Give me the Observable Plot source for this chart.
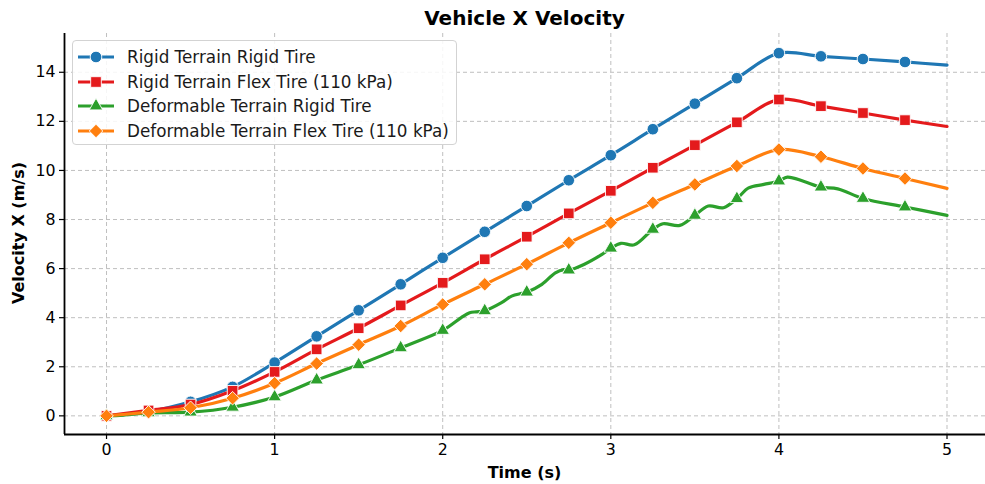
<!DOCTYPE html>
<html><head><meta charset="utf-8">
<script src="https://cdn.jsdelivr.net/npm/d3@7"></script>
<script src="https://cdn.jsdelivr.net/npm/@observablehq/plot@0.6"></script>
<style>
body{margin:0;background:#fff;font-family:"DejaVu Sans",sans-serif;}
#wrap{position:relative;width:985px;height:484px;overflow:hidden;}
#title{position:absolute;left:64px;width:921px;top:8px;line-height:1;text-align:center;font-weight:bold;font-size:20px;color:#000;}
#xlabel{position:absolute;left:64px;width:921px;top:465px;line-height:1;text-align:center;font-weight:bold;font-size:16px;color:#000;}
#ylabel{position:absolute;left:19px;top:233px;transform:translate(-50%,-50%) rotate(-90deg);white-space:nowrap;line-height:1;font-weight:bold;font-size:16px;color:#000;}
#legend{position:absolute;left:72px;top:40px;width:385px;height:105px;border:1px solid #d3d3d3;border-radius:4px;background:rgba(255,255,255,0.85);box-sizing:border-box;}
.row{position:absolute;left:5px;height:24px;display:flex;align-items:center;}
.row span{margin-left:13px;font-size:16.8px;color:#1a1a1a;white-space:nowrap;}
</style>
</head><body>
<div id="wrap">
  <div id="chart"></div>
  <div id="title">Vehicle X Velocity</div>
  <div id="xlabel">Time (s)</div>
  <div id="ylabel">Velocity X (m/s)</div>
  <div id="legend"></div>
</div>
<script>
// ---- data ----
const time = [0, 0.25, 0.5, 0.75, 1, 1.25, 1.5, 1.75, 2, 2.25, 2.5, 2.75, 3, 3.25, 3.5, 3.75, 4, 4.25, 4.5, 4.75, 5];
const rigidRigid = [0, 0.17, 0.57, 1.18, 2.17, 3.24, 4.30, 5.36, 6.44, 7.50, 8.55, 9.60, 10.62, 11.68, 12.72, 13.76, 14.78, 14.65, 14.54, 14.42, 14.29];
const rigidFlex = [0, 0.22, 0.46, 1.02, 1.79, 2.71, 3.57, 4.50, 5.42, 6.38, 7.30, 8.25, 9.17, 10.11, 11.03, 11.96, 12.89, 12.62, 12.34, 12.05, 11.79];
const deformRigid = [0, 0.12, 0.15, 0.35, 0.77, 1.46, 2.08, 2.77, 3.48, 4.28, 5.04, 5.94, 6.83, 7.60, 8.17, 8.85, 9.57, 9.32, 8.86, 8.51, 8.17];
const deformFlex = [0, 0.15, 0.33, 0.72, 1.33, 2.13, 2.90, 3.66, 4.54, 5.36, 6.18, 7.05, 7.87, 8.68, 9.43, 10.18, 10.85, 10.56, 10.08, 9.67, 9.27];
// finer samples of the oscillating deformable/rigid trace
const deformRigidTime = [0, 0.1, 0.25, 0.5, 0.75, 1, 1.25, 1.5, 1.75, 2, 2.11, 2.16, 2.2, 2.25, 2.35, 2.41, 2.47, 2.5, 2.59, 2.67, 2.72, 2.75, 2.84, 2.94, 3, 3.06, 3.14, 3.25, 3.31, 3.41, 3.5, 3.58, 3.67, 3.75, 3.82, 3.91, 4, 4.05, 4.15, 4.25, 4.35, 4.5, 4.75, 5];
const deformRigidTrace = [0, 0.03, 0.12, 0.15, 0.35, 0.77, 1.46, 2.08, 2.77, 3.48, 4.0, 4.2, 4.24, 4.28, 4.61, 4.88, 4.99, 5.04, 5.36, 5.83, 5.96, 5.94, 6.17, 6.55, 6.83, 7.03, 6.97, 7.60, 7.83, 7.76, 8.17, 8.55, 8.48, 8.85, 9.29, 9.43, 9.57, 9.73, 9.55, 9.32, 9.25, 8.86, 8.51, 8.17];
const seriesNames = ["Rigid Terrain Rigid Tire", "Rigid Terrain Flex Tire (110 kPa)", "Deformable Terrain Rigid Tire", "Deformable Terrain Flex Tire (110 kPa)"];
const seriesColors = ["#1f77b4", "#e41a1c", "#2ca02c", "#ff7f0e"];
const seriesSymbols = ["circle", "square", "triangle", "diamond2"];
const xTicks = [0, 1, 2, 3, 4, 5];
const yTicks = [0, 2, 4, 6, 8, 10, 12, 14];

// ---- build ----
const values = [rigidRigid, rigidFlex, deformRigid, deformFlex];
const X0 = -0.25, X1 = 5.229, Y0 = -0.76, Y1 = 15.58;
const marks = [];
const gridStyle = {stroke: "#b8b8b8", strokeWidth: 0.9, strokeDasharray: "4,3"};
marks.push(Plot.ruleX(xTicks, gridStyle));
marks.push(Plot.ruleY(yTicks, gridStyle));
const symR = {circle: 5.8, square: 6.0, triangle: 5.0, diamond2: 6.1};
seriesNames.forEach((name, k) => {
  let lineData;
  if (k === 2) lineData = deformRigidTime.map((t, i) => ({t, v: deformRigidTrace[i]}));
  else lineData = time.map((t, i) => ({t, v: values[k][i]}));
  const dotData = time.slice(0, time.length - 1).map((t, i) => ({t, v: values[k][i]}));
  marks.push(Plot.line(lineData, {x: "t", y: "v", stroke: seriesColors[k], strokeWidth: 3.2, curve: "catmull-rom"}));
  marks.push(Plot.dot(dotData, {x: "t", y: "v", symbol: seriesSymbols[k], r: symR[seriesSymbols[k]], fill: seriesColors[k], stroke: "white", strokeWidth: 0.9}));
});
marks.push(Plot.ruleX([X0], {stroke: "#000", strokeWidth: 1.8}));
marks.push(Plot.ruleY([Y0], {stroke: "#000", strokeWidth: 1.8}));
marks.push(Plot.axisX(xTicks, {tickSize: 5, tickPadding: 4, label: null, strokeWidth: 1.2, tickFormat: d => String(d)}));
marks.push(Plot.axisY(yTicks, {tickSize: 5, tickPadding: 4, label: null, strokeWidth: 1.2, tickFormat: d => String(d)}));

const chart = Plot.plot({
  width: 985, height: 484,
  marginLeft: 64, marginRight: 0, marginTop: 33, marginBottom: 50,
  x: {domain: [X0, X1]},
  y: {domain: [Y0, Y1]},
  style: {fontFamily: "DejaVu Sans", fontSize: "15.8px", color: "#000", background: "#fff", overflow: "visible"},
  marks
});
document.getElementById("chart").appendChild(chart);

// legend
const legend = document.getElementById("legend");
seriesNames.forEach((name, k) => {
  const row = document.createElement("div");
  row.className = "row";
  row.style.top = (4 + k * 24.5) + "px";
  const svg = d3.create("svg").attr("width", 36).attr("height", 16);
  svg.append("line").attr("x1", 0).attr("x2", 36).attr("y1", 8).attr("y2", 8).attr("stroke", seriesColors[k]).attr("stroke-width", 3.2);
  const sym = {circle: d3.symbolCircle, square: d3.symbolSquare, triangle: d3.symbolTriangle, diamond2: d3.symbolDiamond2}[seriesSymbols[k]];
  const rr = symR[seriesSymbols[k]];
  svg.append("path").attr("transform", "translate(18,8)").attr("d", d3.symbol(sym, Math.PI * rr * rr)())
    .attr("fill", seriesColors[k]).attr("stroke", "white").attr("stroke-width", 0.9);
  row.appendChild(svg.node());
  const sp = document.createElement("span");
  sp.textContent = name;
  row.appendChild(sp);
  legend.appendChild(row);
});
</script>
</body></html>
